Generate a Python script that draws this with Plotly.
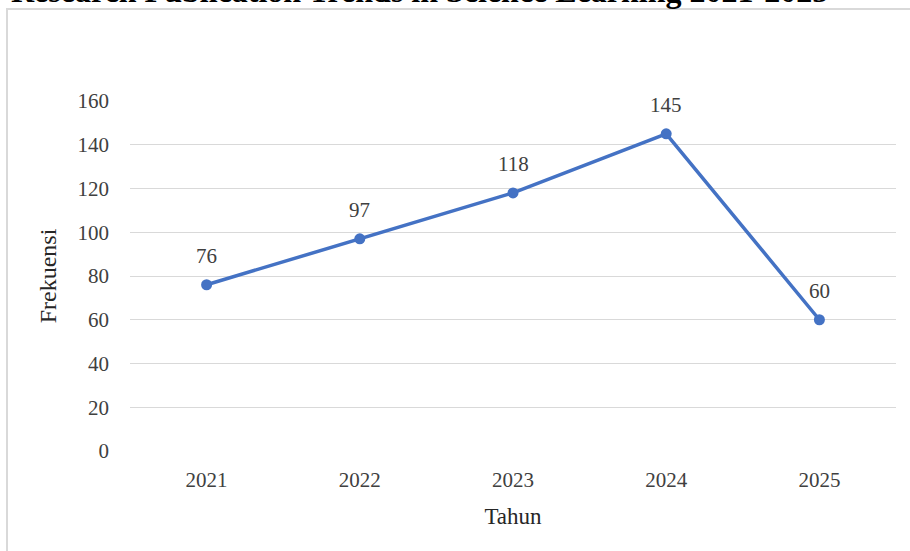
import plotly.graph_objects as go

years = ["2021", "2022", "2023", "2024", "2025"]
frekuensi = [76, 97, 118, 145, 60]
y_ticks = [0, 20, 40, 60, 80, 100, 120, 140, 160]

title_text = "Research Publication Trends in Science Learning 2021-2025"
x_title = "Tahun"
y_title = "Frekuensi"

W, H = 910, 551
L, R, T, B = 130, 14, 101, 100
pw, ph = W - L - R, H - T - B

def px_x(x):
    return (x - L) / pw

def px_y(y):
    return (H - B - y) / ph

serif = "Liberation Serif, Times New Roman, serif"

fig = go.Figure()
fig.add_trace(go.Scatter(
    x=years, y=frekuensi,
    mode="lines+markers",
    line=dict(color="#4472C4", width=3.5),
    marker=dict(color="#4472C4", size=11),
    cliponaxis=False,
    showlegend=False,
))

label_annotations = [
    dict(x=i, y=v, xref="x", yref="y", text=str(v), showarrow=False,
         yshift=29, font=dict(family=serif, size=21, color="#404040"))
    for i, v in enumerate(frekuensi)
]

fig.update_layout(
    width=W, height=H,
    margin=dict(l=L, r=R, t=T, b=B),
    paper_bgcolor="white", plot_bgcolor="white",
    font=dict(family=serif, color="#404040"),
    xaxis=dict(
        type="category", range=[-0.5, len(years) - 0.5],
        showgrid=False, zeroline=False, showline=False,
        ticks="", ticklabelstandoff=14, tickfont=dict(size=21, color="#404040"),
        title=dict(text=x_title, font=dict(size=23, color="#262626"), standoff=16),
    ),
    yaxis=dict(
        range=[0, 160], tickvals=y_ticks, showgrid=True, gridcolor="#d9d9d9",
        gridwidth=1.2, zeroline=False, showline=False, ticks="",
        ticklabelstandoff=20,
        tickfont=dict(size=21, color="#404040"),
        title=dict(text=y_title, font=dict(size=24, color="#262626"), standoff=14),
    ),
    shapes=[dict(
        type="rect", xref="paper", yref="paper",
        x0=px_x(7), x1=px_x(930), y0=px_y(580), y1=px_y(9),
        line=dict(color="#d9d9d9", width=2), fillcolor="rgba(0,0,0,0)", layer="below",
    )],
    annotations=label_annotations + [dict(
        text="<b>" + title_text + "</b>", xref="paper", yref="paper",
        x=px_x(9), y=px_y(11), xanchor="left", yanchor="bottom",
        showarrow=False, font=dict(family=serif, size=32, color="black"),
    )],
)

fig.write_html("out.html")
